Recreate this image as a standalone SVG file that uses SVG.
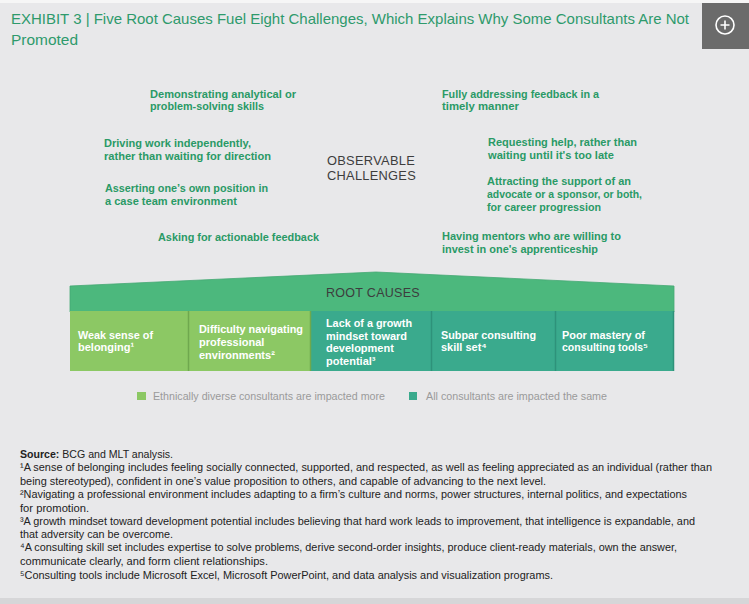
<svg xmlns="http://www.w3.org/2000/svg" width="749" height="604" viewBox="0 0 749 604">
<style>
.title{font-family:"Liberation Sans",Arial,sans-serif;font-size:15px;fill:#2e9a6c}
.ch{font-family:"Liberation Sans",Arial,sans-serif;font-size:11px;font-weight:bold;fill:#2a9a66}
.hdr{font-family:"Liberation Sans",Arial,sans-serif;font-size:13.5px;fill:#3d3d3d;letter-spacing:0.3px}
.cell{font-family:"Liberation Sans",Arial,sans-serif;font-size:11px;font-weight:bold;fill:#ffffff}
.leg{font-family:"Liberation Sans",Arial,sans-serif;font-size:10.5px;fill:#9a9a9a}
.fn{font-family:"Liberation Sans",Arial,sans-serif;font-size:11.5px;fill:#222222}
.light{fill:#8cc864}
.teal{fill:#3aaa8d}
</style>
<rect x="0" y="0" width="749" height="604" fill="#e8e8ea"/>
<rect x="0" y="0" width="749" height="3" fill="#f6f6f6"/>
<rect x="0" y="598" width="749" height="6" fill="#d6d6d8"/>

<g id="title">
<text class="title" x="11" y="24" textLength="678" lengthAdjust="spacingAndGlyphs">EXHIBIT 3 | Five Root Causes Fuel Eight Challenges, Which Explains Why Some Consultants Are Not</text>
<text class="title" x="11" y="45" textLength="67" lengthAdjust="spacingAndGlyphs">Promoted</text>
</g>
<g id="expand-button">
<rect x="702" y="3" width="47" height="46" fill="#6b6b6b"/>
<circle cx="725" cy="25" r="9" fill="none" stroke="#ffffff" stroke-width="1.6"/>
<path d="M725 20.5V29.5M720.5 25H729.5" stroke="#ffffff" stroke-width="1.6"/>
</g>

<g id="challenges-header">
<text class="hdr" x="327" y="165" textLength="88" lengthAdjust="spacingAndGlyphs">OBSERVABLE</text>
<text class="hdr" x="327" y="180" textLength="89" lengthAdjust="spacingAndGlyphs">CHALLENGES</text>
</g>

<g id="ch1"><text class="ch" x="150" y="98" textLength="146" lengthAdjust="spacingAndGlyphs">Demonstrating analytical or</text><text class="ch" x="150" y="110" textLength="114" lengthAdjust="spacingAndGlyphs">problem-solving skills</text></g>
<g id="ch2"><text class="ch" x="104" y="147" textLength="147" lengthAdjust="spacingAndGlyphs">Driving work independently,</text><text class="ch" x="104" y="160" textLength="167" lengthAdjust="spacingAndGlyphs">rather than waiting for direction</text></g>
<g id="ch3"><text class="ch" x="105" y="192" textLength="163" lengthAdjust="spacingAndGlyphs">Asserting one’s own position in</text><text class="ch" x="105" y="205" textLength="132" lengthAdjust="spacingAndGlyphs">a case team environment</text></g>
<g id="ch4"><text class="ch" x="158" y="241" textLength="161" lengthAdjust="spacingAndGlyphs">Asking for actionable feedback</text></g>
<g id="ch5"><text class="ch" x="442" y="98" textLength="157" lengthAdjust="spacingAndGlyphs">Fully addressing feedback in a</text><text class="ch" x="442" y="110" textLength="77" lengthAdjust="spacingAndGlyphs">timely manner</text></g>
<g id="ch6"><text class="ch" x="488" y="146" textLength="149" lengthAdjust="spacingAndGlyphs">Requesting help, rather than</text><text class="ch" x="488" y="159" textLength="126" lengthAdjust="spacingAndGlyphs">waiting until it's too late</text></g>
<g id="ch7"><text class="ch" x="487" y="185" textLength="144" lengthAdjust="spacingAndGlyphs">Attracting the support of an</text><text class="ch" x="487" y="198" textLength="155" lengthAdjust="spacingAndGlyphs">advocate or a sponsor, or both,</text><text class="ch" x="487" y="211" textLength="114" lengthAdjust="spacingAndGlyphs">for career progression</text></g>
<g id="ch8"><text class="ch" x="442" y="240" textLength="179" lengthAdjust="spacingAndGlyphs">Having mentors who are willing to</text><text class="ch" x="442" y="253" textLength="156" lengthAdjust="spacingAndGlyphs">invest in one's apprenticeship</text></g>

<g id="root-causes-band">
<polygon points="70,286 376,272 674,286 674,312 70,312" fill="#4cb87d" stroke="#45a873" stroke-width="0.8"/>
<text class="hdr" x="373" y="297" text-anchor="middle" textLength="94" lengthAdjust="spacingAndGlyphs">ROOT CAUSES</text>
</g>

<g id="rc1">
<rect class="light" x="70" y="311" width="118" height="60"/>
<text class="cell" x="78" y="339" textLength="75" lengthAdjust="spacingAndGlyphs">Weak sense of</text>
<text class="cell" x="78" y="351">belonging¹</text>
</g>
<g id="rc2">
<rect class="light" x="189" y="311" width="121" height="60"/>
<text class="cell" x="199" y="333" textLength="104" lengthAdjust="spacingAndGlyphs">Difficulty navigating</text>
<text class="cell" x="199" y="346">professional</text>
<text class="cell" x="199" y="359">environments²</text>
</g>
<g id="rc3">
<rect class="teal" x="311" y="311" width="120" height="60"/>
<text class="cell" x="326" y="327" textLength="86" lengthAdjust="spacingAndGlyphs">Lack of a growth</text>
<text class="cell" x="326" y="340" textLength="81" lengthAdjust="spacingAndGlyphs">mindset toward</text>
<text class="cell" x="326" y="352">development</text>
<text class="cell" x="326" y="365">potential³</text>
</g>
<g id="rc4">
<rect class="teal" x="432" y="311" width="123" height="60"/>
<text class="cell" x="441" y="339" textLength="95" lengthAdjust="spacingAndGlyphs">Subpar consulting</text>
<text class="cell" x="441" y="351">skill set⁴</text>
</g>
<g id="rc5">
<rect class="teal" x="556" y="311" width="118" height="60"/>
<text class="cell" x="562" y="339" textLength="83" lengthAdjust="spacingAndGlyphs">Poor mastery of</text>
<text class="cell" x="562" y="351" textLength="86" lengthAdjust="spacingAndGlyphs">consulting tools⁵</text>
</g>
<g id="dividers" stroke-width="1.5">
<line x1="188.5" y1="311" x2="188.5" y2="371" stroke="#6fa84e"/>
<line x1="310.5" y1="311" x2="310.5" y2="371" stroke="#6fa84e"/>
<line x1="431.5" y1="311" x2="431.5" y2="371" stroke="#2e927a"/>
<line x1="555.5" y1="311" x2="555.5" y2="371" stroke="#2e927a"/>
<line x1="673.5" y1="311" x2="673.5" y2="371" stroke="#2e927a"/>
</g>

<g id="legend">
<rect class="light" x="137" y="392" width="9" height="8"/>
<text class="leg" x="153" y="400" textLength="232" lengthAdjust="spacingAndGlyphs">Ethnically diverse consultants are impacted more</text>
<rect class="teal" x="409" y="392" width="8" height="8"/>
<text class="leg" x="426" y="400" textLength="181" lengthAdjust="spacingAndGlyphs">All consultants are impacted the same</text>
</g>

<g id="footnotes">
<text class="fn" x="20" y="458" textLength="153" lengthAdjust="spacingAndGlyphs"><tspan font-weight="bold">Source:</tspan> BCG and MLT analysis.</text>
<text class="fn" x="20" y="471" textLength="692" lengthAdjust="spacingAndGlyphs">¹A sense of belonging includes feeling socially connected, supported, and respected, as well as feeling appreciated as an individual (rather than</text>
<text class="fn" x="20" y="485" textLength="526" lengthAdjust="spacingAndGlyphs">being stereotyped), confident in one’s value proposition to others, and capable of advancing to the next level.</text>
<text class="fn" x="20" y="498" textLength="667" lengthAdjust="spacingAndGlyphs">²Navigating a professional environment includes adapting to a firm’s culture and norms, power structures, internal politics, and expectations</text>
<text class="fn" x="20" y="512" textLength="69" lengthAdjust="spacingAndGlyphs">for promotion.</text>
<text class="fn" x="20" y="525" textLength="675" lengthAdjust="spacingAndGlyphs">³A growth mindset toward development potential includes believing that hard work leads to improvement, that intelligence is expandable, and</text>
<text class="fn" x="20" y="538" textLength="153" lengthAdjust="spacingAndGlyphs">that adversity can be overcome.</text>
<text class="fn" x="20" y="551" textLength="657" lengthAdjust="spacingAndGlyphs">⁴A consulting skill set includes expertise to solve problems, derive second-order insights, produce client-ready materials, own the answer,</text>
<text class="fn" x="20" y="565" textLength="248" lengthAdjust="spacingAndGlyphs">communicate clearly, and form client relationships.</text>
<text class="fn" x="20" y="579" textLength="533" lengthAdjust="spacingAndGlyphs">⁵Consulting tools include Microsoft Excel, Microsoft PowerPoint, and data analysis and visualization programs.</text>
</g>
</svg>
